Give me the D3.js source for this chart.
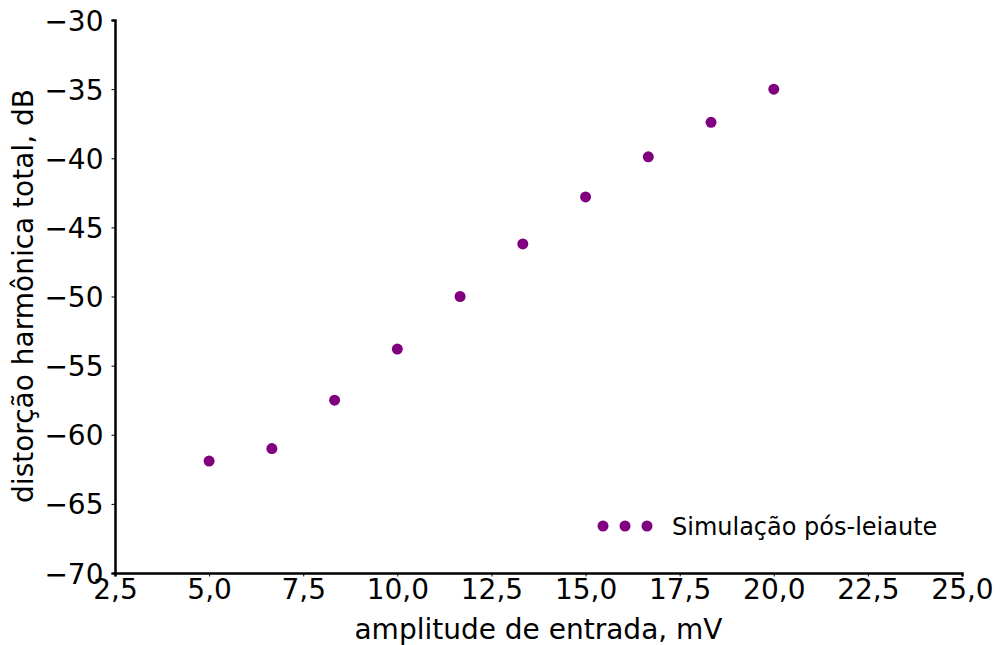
<!DOCTYPE html>
<html>
<head>
<meta charset="utf-8">
<script src="https://cdn.jsdelivr.net/npm/d3@7"></script>
<style>
  body { margin: 0; background: #fff; }
  svg text { font-family: "DejaVu Sans", sans-serif; }
</style>
</head>
<body>
<div id="chart"></div>
<script>
// data
var amplitude = [5.0, 6.667, 8.333, 10.0, 11.667, 13.333, 15.0, 16.667, 18.333, 20.0];
var thd = [-61.9, -61.0, -57.5, -53.8, -50.0, -46.2, -42.8, -39.9, -37.4, -35.0];
var xTicks = [2.5, 5.0, 7.5, 10.0, 12.5, 15.0, 17.5, 20.0, 22.5, 25.0];
var yTicks = [-70, -65, -60, -55, -50, -45, -40, -35, -30];
var seriesName = "Simulação pós-leiaute";

var svgWidth = 1000, svgHeight = 645;
var margin = {top: 20, right: 38, bottom: 72, left: 115};
var width = svgWidth - margin.left - margin.right;
var height = svgHeight - margin.top - margin.bottom;

var svg = d3.select("#chart").append("svg")
  .attr("width", svgWidth)
  .attr("height", svgHeight);

var chartGroup = svg.append("g")
  .attr("transform", `translate(${margin.left}, ${margin.top})`);

var x = d3.scaleLinear().domain([2.5, 25]).range([0, width]);
var y = d3.scaleLinear().domain([-70, -30]).range([height, 0]);

var fmtX = v => v.toFixed(1).replace(".", ",");
var fmtY = v => String(v).replace("-", "\u2212");

var bottomAxis = d3.axisBottom(x).tickValues(xTicks).tickFormat(fmtX).tickSizeOuter(0).tickSize(3.5).tickPadding(3);
var leftAxis = d3.axisLeft(y).tickValues(yTicks).tickFormat(fmtY).tickSizeOuter(0).tickSize(3.5).tickPadding(8);

var gx = chartGroup.append("g")
  .attr("transform", `translate(0, ${height})`)
  .call(bottomAxis);
var gy = chartGroup.append("g").call(leftAxis);

[gx, gy].forEach(function(g) {
  g.select(".domain").attr("stroke", "#000").attr("stroke-width", 2.5);
  g.selectAll(".tick line").attr("stroke", "#000").attr("stroke-width", 1);
  g.selectAll(".tick text").attr("font-size", 28).attr("fill", "#000")
    .style("font-family", "DejaVu Sans, sans-serif");
});
gx.selectAll(".tick text").attr("dy", "0.71em");
gy.selectAll(".tick text").attr("dy", "0.36em");

// points
chartGroup.selectAll("circle.pt")
  .data(amplitude)
  .enter()
  .append("circle")
  .attr("class", "pt")
  .attr("cx", d => x(d))
  .attr("cy", (d, i) => y(thd[i]))
  .attr("r", 5.5)
  .attr("fill", "#800080");

// legend
var legend = chartGroup.append("g")
  .attr("transform", `translate(${603 - margin.left}, ${526 - margin.top})`);
legend.selectAll("circle")
  .data([0, 1, 2])
  .enter()
  .append("circle")
  .attr("cx", d => d * 22)
  .attr("cy", 0)
  .attr("r", 5.5)
  .attr("fill", "#800080");
legend.append("text")
  .attr("x", 69)
  .attr("y", 0)
  .attr("dy", "0.36em")
  .attr("font-size", 24)
  .attr("fill", "#000")
  .text(seriesName);

// axis labels
chartGroup.append("text")
  .attr("x", width / 2)
  .attr("y", 639 - margin.top)
  .attr("text-anchor", "middle")
  .attr("font-size", 28)
  .text("amplitude de entrada, mV");

chartGroup.append("text")
  .attr("transform", "rotate(-90)")
  .attr("x", -(296 - margin.top))
  .attr("y", 33 - margin.left)
  .attr("text-anchor", "middle")
  .attr("font-size", 28)
  .text("distorção harmônica total, dB");
</script>
</body>
</html>
